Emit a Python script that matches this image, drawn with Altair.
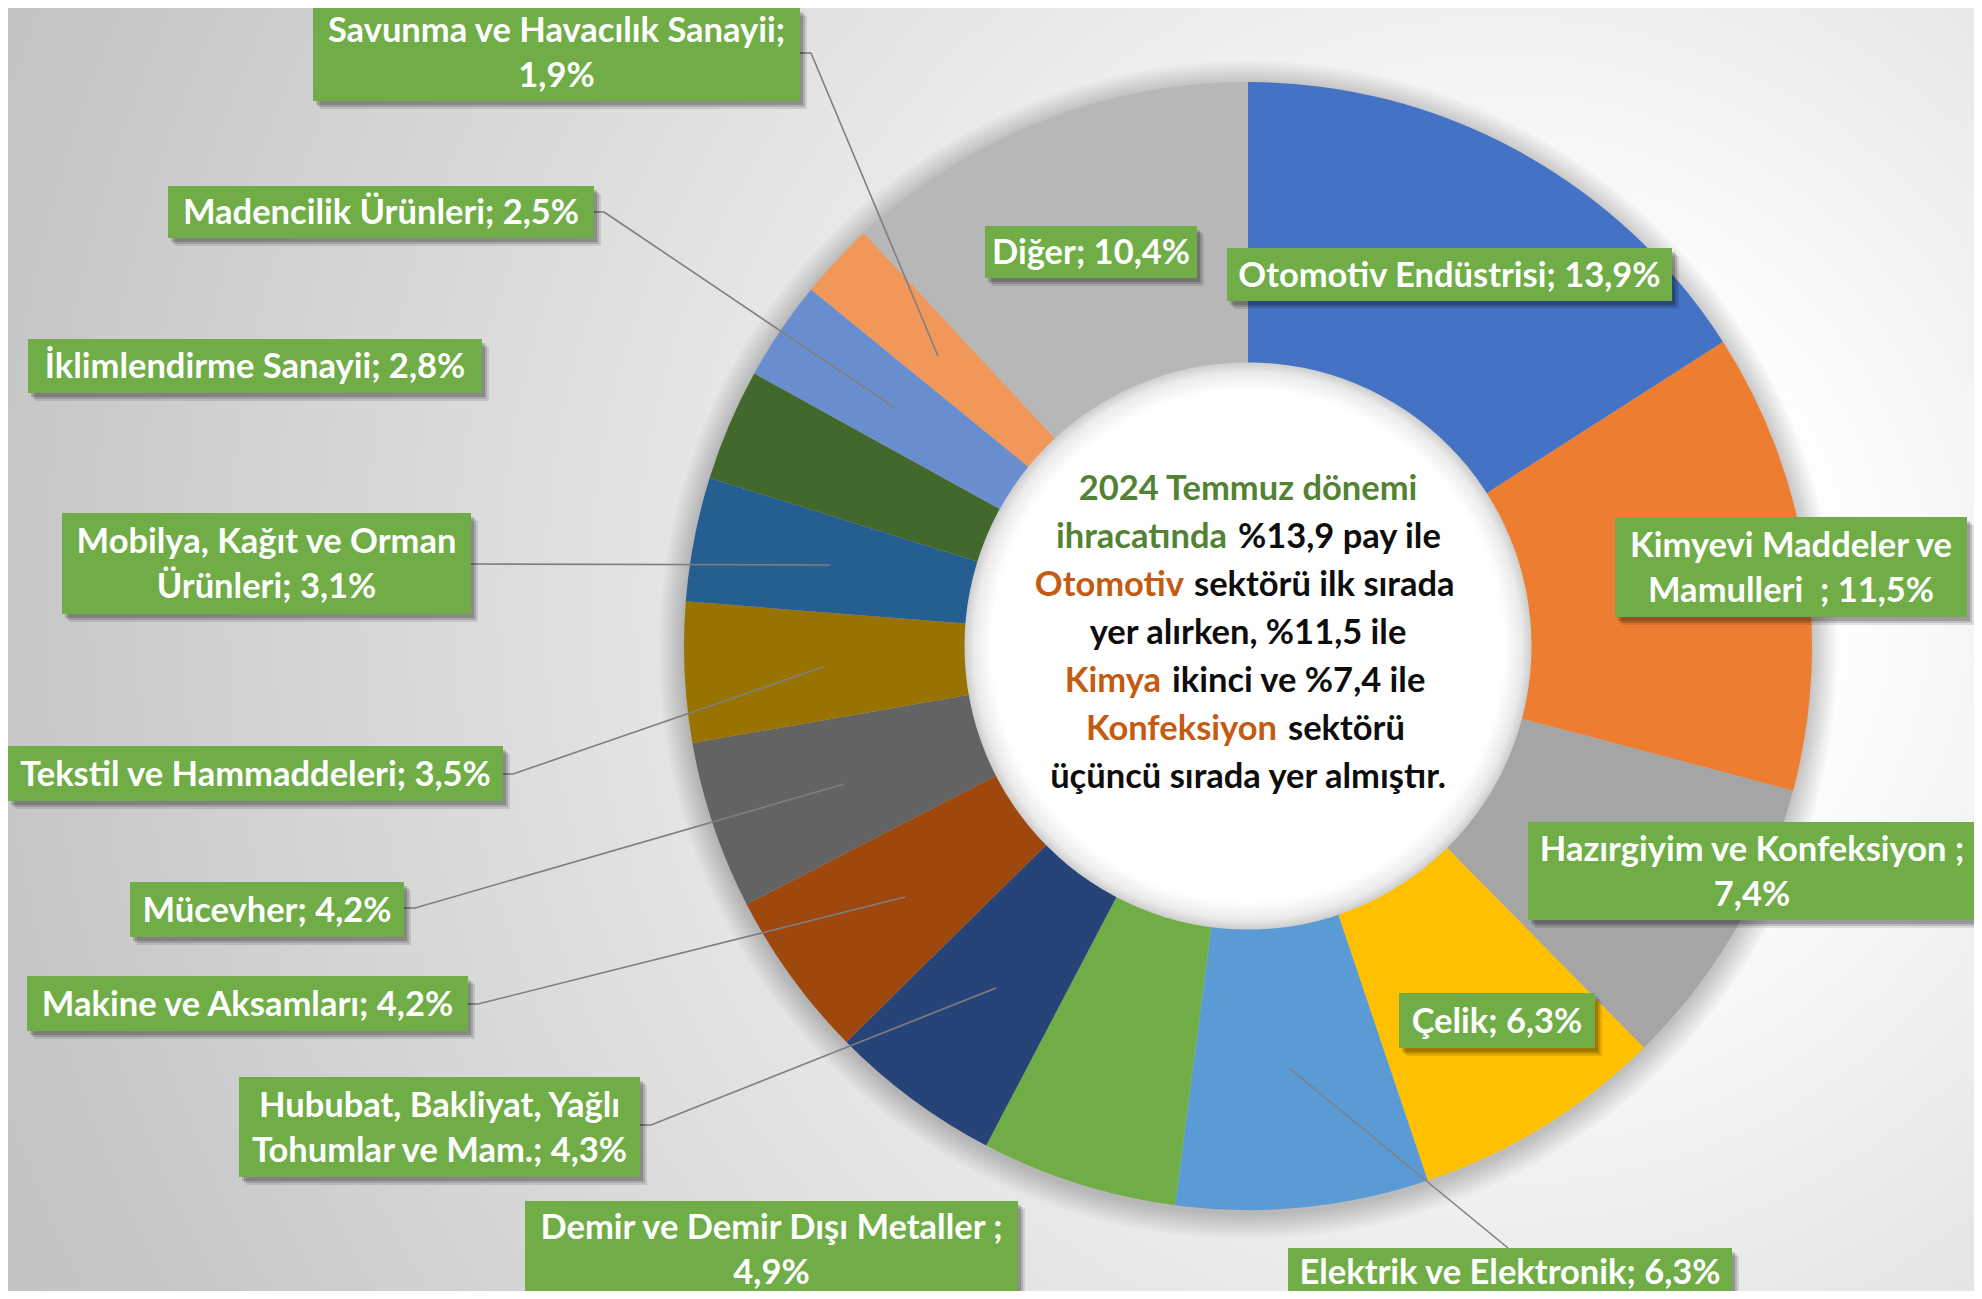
import altair as alt
import pandas as pd

# ---------------- data ----------------
sectors = [
    "Otomotiv Endüstrisi", "Kimyevi Maddeler ve Mamulleri", "Hazırgiyim ve Konfeksiyon",
    "Çelik", "Elektrik ve Elektronik", "Demir ve Demir Dışı Metaller",
    "Hububat, Bakliyat, Yağlı Tohumlar ve Mam.", "Makine ve Aksamları", "Mücevher",
    "Tekstil ve Hammaddeleri", "Mobilya, Kağıt ve Orman Ürünleri", "İklimlendirme Sanayii",
    "Madencilik Ürünleri", "Savunma ve Havacılık Sanayii", "Diğer",
]
shares = [13.9, 11.5, 7.4, 6.3, 6.3, 4.9, 4.3, 4.2, 4.2, 3.5, 3.1, 2.8, 2.5, 1.9, 10.4]
colors = [
    "#4472C4", "#ED7D31", "#A5A5A5", "#FFC000", "#5B9BD5", "#70AD47", "#264478",
    "#9E480E", "#636363", "#997300", "#255E91", "#43682B", "#698ED0", "#F1975A", "#B7B7B7",
]
label_lines = [
    ["Otomotiv Endüstrisi; {p}"],
    ["Kimyevi Maddeler ve", "Mamulleri \u00a0; {p}"],
    ["Hazırgiyim ve Konfeksiyon ;", "{p}"],
    ["Çelik; {p}"],
    ["Elektrik ve Elektronik; {p}"],
    ["Demir ve Demir Dışı Metaller ;", "{p}"],
    ["Hububat, Bakliyat, Yağlı", "Tohumlar ve Mam.; {p}"],
    ["Makine ve Aksamları; {p}"],
    ["Mücevher; {p}"],
    ["Tekstil ve Hammaddeleri; {p}"],
    ["Mobilya, Kağıt ve Orman", "Ürünleri; {p}"],
    ["İklimlendirme Sanayii; {p}"],
    ["Madencilik Ürünleri; {p}"],
    ["Savunma ve Havacılık Sanayii;", "{p}"],
    ["Diğer; {p}"],
]
center_lines = [
    [("2024 Temmuz dönemi", "green")],
    [("ihracatında", "green"), ("%13,9 pay ile", "black")],
    [("Otomotiv", "orange"), ("sektörü ilk sırada", "black")],
    [("yer alırken, %11,5 ile", "black")],
    [("Kimya", "orange"), ("ikinci ve %7,4 ile", "black")],
    [("Konfeksiyon", "orange"), ("sektörü", "black")],
    [("üçüncü sırada yer almıştır.", "black")],
]

# ---------------- layout (page pixels) ----------------
OFF = 8
CX, CY = 1248, 646
R_OUT, R_IN = 564, 283
W, H = 1966, 1283
BOTTOM = H + OFF
boxes = [
    (1227, 248, 1672, 301), (1615, 517, 1967, 617), (1528, 822, 1976, 920),
    (1399, 993, 1595, 1048), (1288, 1248, 1732, BOTTOM), (525, 1201, 1018, BOTTOM),
    (239, 1077, 640, 1177), (27, 976, 468, 1031), (130, 882, 404, 937),
    (8, 746, 503, 801), (62, 513, 471, 614), (28, 339, 482, 393),
    (168, 186, 594, 238), (313, 8, 800, 101), (985, 226, 1197, 278),
]
# first-line baselines for boxes cut by the page edges
text_first_baseline = {4: 1284, 5: 1239, 13: 42}
leaders = {
    13: [(800, 53), (811, 53), (938, 356)],
    12: [(594, 212), (604, 212), (895, 408)],
    10: [(471, 564), (830, 565)],
    9: [(503, 774), (513, 774), (823, 667)],
    8: [(404, 908), (415, 908), (844, 784)],
    7: [(468, 1004), (478, 1004), (905, 897)],
    6: [(640, 1125), (651, 1125), (996, 988)],
    4: [(1508, 1248), (1289, 1068)],
}
center_baselines = [500, 548, 596, 644, 692, 740, 788]
center_splits = [None, (1227, 1238), (1184, 1194), None, (1161, 1172), (1277, 1288), None]
text_colors = {"green": "#548235", "orange": "#C55A11", "black": "#0D0D0D"}

FONT = "Lato"
LBL_SIZE = 34.5
CTR_SIZE = 34.5
LINE_H = 45


def p(v):
    return v - OFF


def fmt(v):
    return f"{v:.1f}".replace(".", ",") + "%"


X = lambda f: alt.X(f"{f}:Q", scale=None, axis=None)
Y = lambda f: alt.Y(f"{f}:Q", scale=None, axis=None)

# ---------------- background ----------------
bg = alt.Chart(pd.DataFrame({"a": [0]})).mark_rect(
    fill={
        "gradient": "radial",
        "x1": 0.759, "y1": 0.475, "r1": 0,
        "x2": 0.759, "y2": 0.475, "r2": 0.82,
        "stops": [
            {"offset": 0.0, "color": "#ffffff"},
            {"offset": 0.22, "color": "#fdfdfd"},
            {"offset": 0.48, "color": "#e7e7e7"},
            {"offset": 0.93, "color": "#c7c7c7"},
            {"offset": 1.0, "color": "#c4c4c4"},
        ],
    }
).encode(x=alt.value(0), x2=alt.value(W), y=alt.value(0), y2=alt.value(H))

# ---------------- donut ----------------
one = pd.DataFrame({"v": [1]})
glow_r = R_OUT + 26
glow = alt.Chart(one).mark_circle(
    opacity=1,
    fill={
        "gradient": "radial", "x1": 0.5, "y1": 0.5, "r1": 0, "x2": 0.5, "y2": 0.5, "r2": 0.5,
        "stops": [
            {"offset": 0.0, "color": "rgba(0,0,0,0.25)"},
            {"offset": R_OUT / glow_r, "color": "rgba(0,0,0,0.22)"},
            {"offset": 1.0, "color": "rgba(0,0,0,0)"},
        ],
    },
).encode(x=alt.value(p(CX)), y=alt.value(p(CY) + 4), size=alt.value((2 * glow_r) ** 2))

pie_df = pd.DataFrame({"sector": sectors, "share": shares, "idx": list(range(len(sectors)))})
donut = alt.Chart(pie_df).mark_arc(radius=R_OUT, radius2=R_IN).encode(
    theta=alt.Theta("share:Q", stack=True),
    order=alt.Order("idx:Q"),
    color=alt.Color("sector:N", scale=alt.Scale(domain=sectors, range=colors), legend=None),
    x=alt.value(p(CX)),
    y=alt.value(p(CY)),
)

hole = alt.Chart(one).mark_circle(
    opacity=1,
    fill={
        "gradient": "radial", "x1": 0.5, "y1": 0.5, "r1": 0, "x2": 0.5, "y2": 0.5, "r2": 0.5,
        "stops": [
            {"offset": 0.0, "color": "#ffffff"},
            {"offset": 0.90, "color": "#ffffff"},
            {"offset": 0.965, "color": "#ebebeb"},
            {"offset": 1.0, "color": "#cdcdcd"},
        ],
    },
).encode(x=alt.value(p(CX)), y=alt.value(p(CY)), size=alt.value((2 * R_IN + 1) ** 2))

# ---------------- leader lines ----------------
seg_rows = []
for k, pts in leaders.items():
    for (x1, y1), (x2, y2) in zip(pts[:-1], pts[1:]):
        seg_rows.append({"x": p(x1), "y": p(y1), "x2": p(x2), "y2": p(y2)})
seg_df = pd.DataFrame(seg_rows)
lines = alt.Chart(seg_df).mark_rule(color="#7F7F7F", strokeWidth=1.6).encode(
    x=X("x"), y=Y("y"), x2="x2:Q", y2="y2:Q"
)

# ---------------- label boxes ----------------
box_df = pd.DataFrame(
    [{"x": p(b[0]), "y": p(b[1]), "x2": p(b[2]), "y2": p(b[3])} for b in boxes]
)
shadow_layers = []
for dx, dy, op in [(7, 8, 0.10), (5, 6, 0.14), (3, 4, 0.18)]:
    sdf = box_df.copy()
    sdf["x"] += dx
    sdf["x2"] += dx
    sdf["y"] += dy
    sdf["y2"] += dy
    shadow_layers.append(
        alt.Chart(sdf).mark_rect(color="#000000", opacity=op).encode(
            x=X("x"), y=Y("y"), x2="x2:Q", y2="y2:Q"
        )
    )
box_layer = alt.Chart(box_df).mark_rect(color="#70AD47").encode(
    x=X("x"), y=Y("y"), x2="x2:Q", y2="y2:Q"
)

txt_rows = []
for i, (b, lines_i) in enumerate(zip(boxes, label_lines)):
    txt = [s.format(p=fmt(shares[i])) for s in lines_i]
    n = len(txt)
    cx = (b[0] + b[2]) / 2
    if i in text_first_baseline:
        ys = [text_first_baseline[i] + j * LINE_H for j in range(n)]
    else:
        cy = (b[1] + b[3]) / 2
        ys = [cy + (j - (n - 1) / 2) * LINE_H + 12 for j in range(n)]
    for t, yy in zip(txt, ys):
        txt_rows.append({"x": p(cx), "y": p(yy), "t": t})
txt_df = pd.DataFrame(txt_rows)
label_text = alt.Chart(txt_df).mark_text(
    font=FONT, fontSize=LBL_SIZE, fontWeight="bold", color="#FFFFFF",
    align="center", baseline="alphabetic",
).encode(x=X("x"), y=Y("y"), text="t:N")

# ---------------- center text ----------------
rows = {"center": [], "right": [], "left": []}
for segs, yb, sp in zip(center_lines, center_baselines, center_splits):
    if sp is None:
        for t, c in segs:
            rows["center"].append({"x": p(CX), "y": p(yb), "t": t, "c": text_colors[c]})
    else:
        (t1, c1), (t2, c2) = segs
        rows["right"].append({"x": p(sp[0]), "y": p(yb), "t": t1, "c": text_colors[c1]})
        rows["left"].append({"x": p(sp[1]), "y": p(yb), "t": t2, "c": text_colors[c2]})
center_layers = []
for al, rr in rows.items():
    center_layers.append(
        alt.Chart(pd.DataFrame(rr)).mark_text(
            font=FONT, fontSize=CTR_SIZE, fontWeight="bold", align=al, baseline="alphabetic"
        ).encode(x=X("x"), y=Y("y"), text="t:N", color=alt.Color("c:N", scale=None))
    )

chart = alt.layer(
    bg, glow, donut, hole, lines, *shadow_layers, box_layer, label_text, *center_layers
).properties(width=W, height=H, padding=0, autosize="none").configure_view(stroke=None)

chart.save("out.html", embed_options={"renderer": "svg", "actions": False})
